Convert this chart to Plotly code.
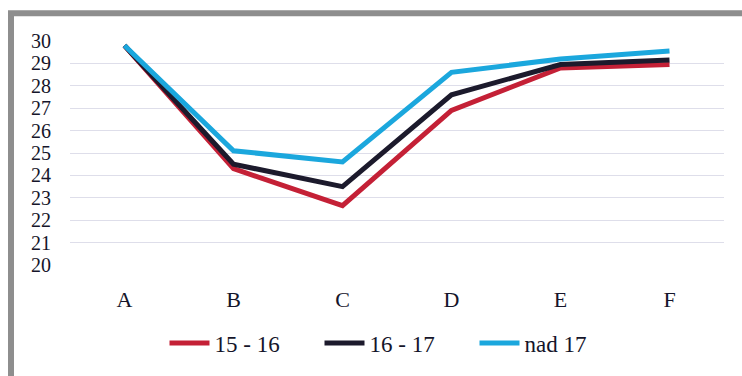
import plotly.graph_objects as go

categories = ["A", "B", "C", "D", "E", "F"]
series_names = ["15 - 16", "16 - 17", "nad 17"]
values_15_16 = [29.8, 24.3, 22.65, 26.9, 28.8, 28.95]
values_16_17 = [29.8, 24.5, 23.5, 27.6, 28.95, 29.15]
values_nad_17 = [29.8, 25.1, 24.6, 28.6, 29.2, 29.55]
colors = ["#c42036", "#1c1a2c", "#1ba7dd"]
y_ticks = list(range(20, 31))

W, H = 742, 376
ml, mr, mt, mb = 70, 18, 41, 108
pw, ph = W - ml - mr, H - mt - mb

fig = go.Figure()
for name, vals, col in zip(series_names, [values_15_16, values_16_17, values_nad_17], colors):
    fig.add_trace(go.Scatter(
        x=categories, y=vals, name=name, mode="lines",
        line=dict(color=col, width=5, shape="linear"),
        cliponaxis=False,
    ))

def px_x(p):
    return (p - ml) / pw

def px_y(p):
    return 1 - (p - mt) / ph

# grey frame running off the top-left of the page
fig.add_shape(type="rect", xref="paper", yref="paper",
              x0=px_x(11), x1=px_x(780), y0=px_y(420), y1=px_y(13),
              line=dict(color="#8e8e8e", width=6), fillcolor="rgba(0,0,0,0)",
              layer="below")

font_family = "Times New Roman, Liberation Serif, DejaVu Serif, serif"
fig.update_layout(
    width=W, height=H,
    margin=dict(l=ml, r=mr, t=mt, b=mb),
    paper_bgcolor="white", plot_bgcolor="white",
    font=dict(family=font_family, size=22, color="#15152a"),
    showlegend=True,
    legend=dict(orientation="h", x=0.5, xanchor="center",
                y=px_y(347), yanchor="middle",
                font=dict(family=font_family, size=23, color="#15152a"),
                entrywidth=100, entrywidthmode="pixels",
                itemwidth=40, tracegroupgap=0,
                bgcolor="rgba(0,0,0,0)"),
    xaxis=dict(range=[-0.5, 5.5], showgrid=False, zeroline=False,
               showline=False, ticks="", ticklabelstandoff=19,
               tickfont=dict(family=font_family, size=22)),
    yaxis=dict(range=[20, 30], tickvals=y_ticks, showgrid=True,
               gridcolor="#dedeea", gridwidth=1, zeroline=False,
               showline=False, ticks="", ticklabelstandoff=18,
               tickfont=dict(family=font_family, size=20)),
)

fig.write_html("out.html")
